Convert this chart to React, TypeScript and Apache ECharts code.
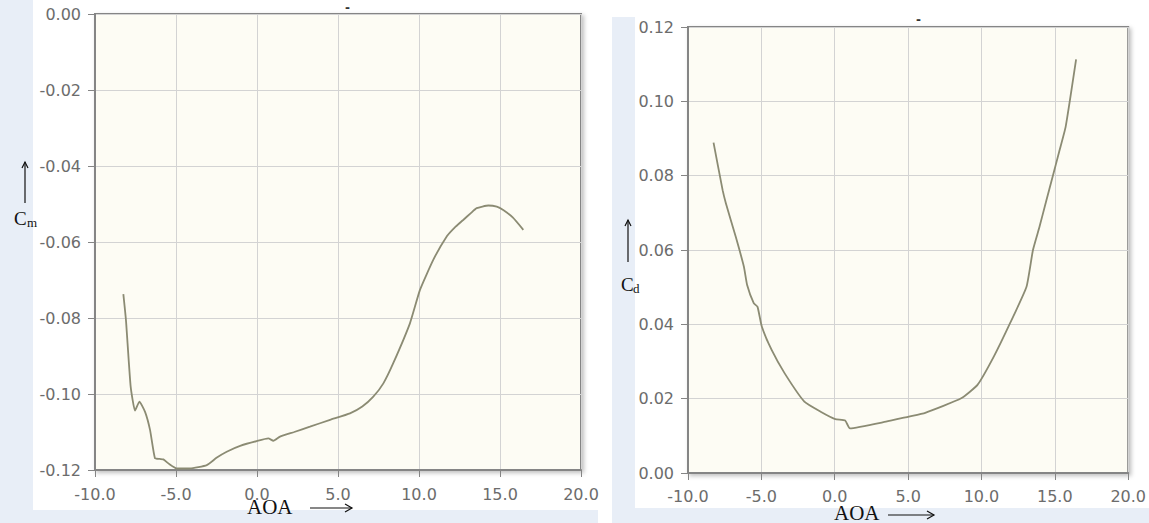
import React, { useEffect, useRef } from "react";
import * as echarts from "echarts";

// Left chart: pitching moment coefficient vs angle of attack
const cmAoa = [-8.25, -8.09, -7.8, -7.53, -7.26, -6.91, -6.6, -6.3, -6.0, -5.78, -5.4, -4.96, -4.14, -3.1, -2.5, -1.87, -1.0, -0.02, 0.7, 1.01, 1.42, 2.3, 3.27, 4.51, 5.74, 6.5, 7.18, 7.8, 8.41, 9.44, 10.06, 10.88, 11.7, 12.2, 12.73, 13.2, 13.56, 14.28, 14.8, 15.2, 15.8, 16.44];
const cmVals = [-0.0737, -0.0805, -0.098, -0.1044, -0.102, -0.1047, -0.1095, -0.1169, -0.1171, -0.1172, -0.1185, -0.1196, -0.1196, -0.1187, -0.1168, -0.1152, -0.1136, -0.1124, -0.1117, -0.1123, -0.1112, -0.11, -0.1086, -0.1068, -0.1051, -0.1033, -0.1007, -0.0972, -0.0919, -0.0814, -0.0726, -0.0647, -0.0586, -0.0562, -0.0542, -0.0524, -0.0511, -0.0504, -0.0507, -0.0516, -0.0536, -0.0568];

// Right chart: drag coefficient vs angle of attack
const cdAoa = [-8.26, -7.64, -7.42, -6.75, -6.19, -5.97, -5.52, -5.26, -4.97, -4.3, -3.41, -2.07, -0.96, 0.04, 0.71, 1.04, 3.49, 5.05, 6.17, 8.62, 9.73, 10.84, 11.95, 13.07, 13.51, 13.96, 14.4, 14.85, 15.3, 15.74, 16.45];
const cdVals = [0.0889, 0.0761, 0.0726, 0.0636, 0.0555, 0.0506, 0.0457, 0.0447, 0.0394, 0.0331, 0.0268, 0.0192, 0.0165, 0.0145, 0.0141, 0.012, 0.0138, 0.0152, 0.0162, 0.0201, 0.0237, 0.0313, 0.0403, 0.0501, 0.06, 0.0663, 0.073, 0.0797, 0.0865, 0.0932, 0.1113];

const xMin = -10;
const xMax = 20;
const xStep = 5;
const cmMin = -0.12;
const cmMax = 0;
const cdMin = 0;
const cdMax = 0.12;
const yStep = 0.02;

const LINE = "#8b8b73";
const LABEL = "#6c6c6c";
const FRAME = "#858585";
const SPLIT = "#d3d3d3";
const SERIF = "'Liberation Serif', 'Times New Roman', serif";
const SANS = "'DejaVu Sans', Verdana, sans-serif";

function xAxisCfg(gridIndex: number, margin: number) {
  return {
    type: "value",
    gridIndex,
    min: xMin,
    max: xMax,
    interval: xStep,
    axisLine: { show: true, onZero: false, lineStyle: { color: FRAME, width: 2 } },
    axisTick: { show: true, length: 7, lineStyle: { color: FRAME, width: 1 } },
    axisLabel: {
      margin,
      color: LABEL,
      fontFamily: SANS,
      fontSize: 16,
      formatter: (v: number) => v.toFixed(1),
    },
    splitLine: { show: true, lineStyle: { color: SPLIT, width: 1 } },
  };
}

function yAxisCfg(gridIndex: number, min: number, max: number) {
  return {
    type: "value",
    gridIndex,
    min,
    max,
    interval: yStep,
    axisLine: { show: true, onZero: false, lineStyle: { color: FRAME, width: 2 } },
    axisTick: { show: true, length: 7, lineStyle: { color: FRAME, width: 1 } },
    axisLabel: {
      margin: 14,
      color: LABEL,
      fontFamily: SANS,
      fontSize: 16,
      formatter: (v: number) => (Math.abs(v) < 1e-9 ? "0.00" : v.toFixed(2)),
    },
    splitLine: { show: true, lineStyle: { color: SPLIT, width: 1 } },
  };
}

function hArrow(x1: number, x2: number, y: number) {
  return [
    { type: "line", shape: { x1, y1: y, x2, y2: y }, style: { stroke: "#111", lineWidth: 1.2 } },
    {
      type: "polyline",
      shape: { points: [[x2 - 7, y - 4], [x2, y], [x2 - 7, y + 4]] },
      style: { stroke: "#111", lineWidth: 1.2, fill: null },
    },
  ];
}

function vArrow(x: number, yTop: number, yBottom: number) {
  return [
    { type: "line", shape: { x1: x, y1: yBottom, x2: x, y2: yTop }, style: { stroke: "#111", lineWidth: 1.2 } },
    {
      type: "polyline",
      shape: { points: [[x - 3, yTop + 6], [x, yTop], [x + 3, yTop + 6]] },
      style: { stroke: "#111", lineWidth: 1.2, fill: null },
    },
  ];
}

export default function App() {
  const ref = useRef<HTMLDivElement>(null);

  useEffect(() => {
    if (!ref.current) return;
    const chart = echarts.init(ref.current, null, { renderer: "svg" });
    const gridStyle = {
      show: true,
      backgroundColor: "#fdfcf4",
      borderColor: FRAME,
      borderWidth: 2,
      shadowColor: "rgba(0,0,0,0.25)",
      shadowBlur: 4,
      shadowOffsetX: 2,
      shadowOffsetY: 2,
      containLabel: false,
    };
    chart.setOption({
      animation: false,
      backgroundColor: "transparent",
      grid: [
        { ...gridStyle, left: 95, top: 14, width: 486, height: 456 },
        { ...gridStyle, left: 688, top: 27, width: 449, height: 446 },
      ],
      xAxis: [xAxisCfg(0, 16), xAxisCfg(1, 15)],
      yAxis: [yAxisCfg(0, cmMin, cmMax), yAxisCfg(1, cdMin, cdMax)],
      series: [
        {
          name: "Cm",
          type: "line",
          xAxisIndex: 0,
          yAxisIndex: 0,
          showSymbol: false,
          smooth: 0.15,
          lineStyle: { color: LINE, width: 1.8 },
          itemStyle: { color: LINE },
          data: cmAoa.map((a, i) => [a, cmVals[i]]),
        },
        {
          name: "Cd",
          type: "line",
          xAxisIndex: 1,
          yAxisIndex: 1,
          showSymbol: false,
          smooth: 0.15,
          lineStyle: { color: LINE, width: 1.8 },
          itemStyle: { color: LINE },
          data: cdAoa.map((a, i) => [a, cdVals[i]]),
        },
      ],
      graphic: [
        { type: "text", x: 345, y: 2, style: { text: "-", fontSize: 12, fontWeight: "bold", fill: "#333", fontFamily: SANS } },
        { type: "text", x: 916, y: 14, style: { text: "-", fontSize: 12, fontWeight: "bold", fill: "#333", fontFamily: SANS } },
        // left labels
        { type: "text", x: 14, y: 209, style: { text: "C", fontSize: 19, fill: "#111", fontFamily: SERIF } },
        { type: "text", x: 27, y: 216, style: { text: "m", fontSize: 13, fill: "#111", fontFamily: SERIF } },
        ...vArrow(25, 162, 203),
        { type: "text", x: 247, y: 496, style: { text: "AOA", fontSize: 21, fill: "#111", fontFamily: SERIF } },
        ...hArrow(310, 352, 508),
        // right labels
        { type: "text", x: 621, y: 275, style: { text: "C", fontSize: 19, fill: "#111", fontFamily: SERIF } },
        { type: "text", x: 633, y: 282, style: { text: "d", fontSize: 13, fill: "#111", fontFamily: SERIF } },
        ...vArrow(628, 220, 262),
        { type: "text", x: 834, y: 502, style: { text: "AOA", fontSize: 21, fill: "#111", fontFamily: SERIF } },
        ...hArrow(888, 934, 515),
      ],
    });
    return () => chart.dispose();
  }, []);

  const blue = "#e8eef7";
  return (
    <div style={{ position: "absolute", left: 0, top: 0, width: 1149, height: 523, background: "#ffffff", overflow: "hidden" }}>
      <div style={{ position: "absolute", left: 0, top: 0, width: 33, height: 523, background: blue }} />
      <div style={{ position: "absolute", left: 0, top: 510, width: 598, height: 13, background: blue }} />
      <div style={{ position: "absolute", left: 612, top: 17, width: 23, height: 506, background: blue }} />
      <div style={{ position: "absolute", left: 612, top: 508, width: 537, height: 15, background: blue }} />
      <div ref={ref} style={{ position: "absolute", left: 0, top: 0, width: 1149, height: 523 }} />
    </div>
  );
}
